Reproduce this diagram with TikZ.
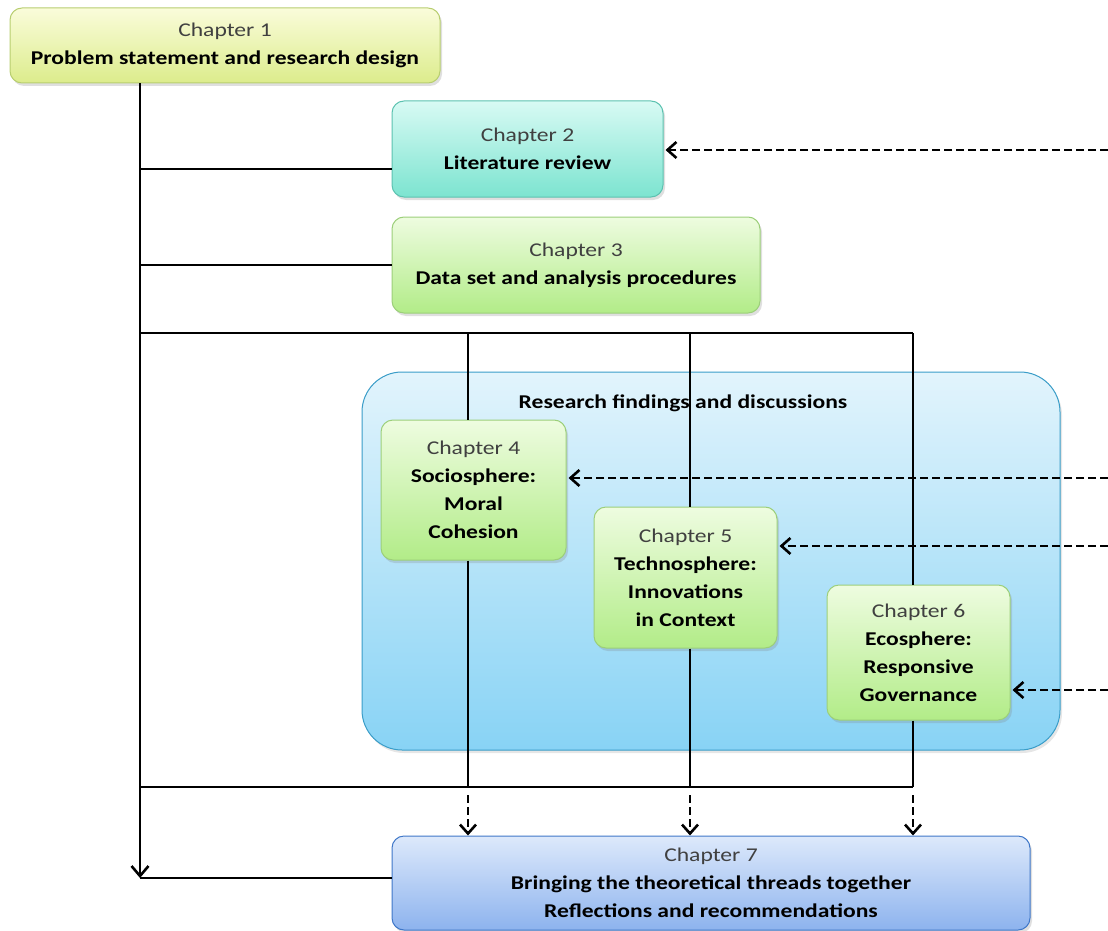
\documentclass[tikz,border=0pt]{standalone}
\usepackage{fontspec}
\setmainfont[FakeStretch=1.21]{Carlito}
\usepackage{xcolor}
\usetikzlibrary{arrows.meta,positioning,calc,shadows}

\definecolor{chapgray}{HTML}{404040}
\definecolor{yelTop}{HTML}{FAFCDA}
\definecolor{yelBot}{HTML}{DCEC8C}
\definecolor{yelLine}{HTML}{B8CE70}
\definecolor{cyaTop}{HTML}{D8FAF4}
\definecolor{cyaBot}{HTML}{7CE4D0}
\definecolor{cyaLine}{HTML}{5CC2B0}
\definecolor{grnTop}{HTML}{EEFCE0}
\definecolor{grnBot}{HTML}{B2EC88}
\definecolor{grnLine}{HTML}{9CCF7A}
\definecolor{bluTop}{HTML}{DDE9FB}
\definecolor{bluBot}{HTML}{8DB3EE}
\definecolor{bluLine}{HTML}{3F77C8}
\definecolor{skyTop}{HTML}{E2F4FC}
\definecolor{skyBot}{HTML}{88D3F5}
\definecolor{skyLine}{HTML}{3A9DC8}

\tikzset{
    chapbox/.style={draw, rounded corners=12pt, align=center, inner sep=0pt,
        line width=1pt, font=\fontsize{19.5}{28}\selectfont\bfseries,
        drop shadow={shadow xshift=2pt, shadow yshift=-3pt, opacity=0.25}},
    yelbox/.style={chapbox, draw=yelLine, top color=yelTop, bottom color=yelBot},
    cyabox/.style={chapbox, draw=cyaLine, top color=cyaTop, bottom color=cyaBot},
    grnbox/.style={chapbox, draw=grnLine, top color=grnTop, bottom color=grnBot},
    blubox/.style={chapbox, draw=bluLine, top color=bluTop, bottom color=bluBot},
    link/.style={line width=2.8pt},
    dashlink/.style={line width=2.8pt, dash pattern=on 8pt off 4pt,
        -{Straight Barb[length=9pt,width=16pt,line width=2.6pt]}},
    spinearrow/.style={line width=2.8pt,
        -{Straight Barb[length=10pt,width=17pt,line width=2.6pt]}}
}
\newcommand{\chap}[1]{{\mdseries\color{chapgray}Chapter #1}\\}

\begin{document}
\begin{tikzpicture}[x=1pt, y=-1pt]
    \useasboundingbox (0,0) rectangle (1108,931);

    % Draw findings panel
    \node[draw=skyLine, line width=1pt, rounded corners=40pt,
          top color=skyTop, bottom color=skyBot,
          drop shadow={shadow xshift=2pt, shadow yshift=-3pt, opacity=0.2},
          minimum width=698pt, minimum height=378pt] (find) at (711,561) {};
    \node[font=\fontsize{19.5}{28}\selectfont\bfseries] (findlbl) at (683,403)
        {Research findings and discussions};

    % Draw chapters
    \node[yelbox, minimum width=430pt, minimum height=75pt] (ch1) at (225,45.5)
        {\chap{1}Problem statement and research design};
    \node[cyabox, minimum width=271pt, minimum height=96pt] (ch2) at (527.5,149)
        {\chap{2}Literature review};
    \node[grnbox, minimum width=368pt, minimum height=96pt] (ch3) at (576,265)
        {\chap{3}Data set and analysis procedures};
    \node[grnbox, minimum width=185pt, minimum height=140pt] (ch4) at (473.5,490)
        {\chap{4}Sociosphere:\\Moral\\Cohesion};
    \node[grnbox, minimum width=183pt, minimum height=141pt] (ch5) at (685.5,577.5)
        {\chap{5}Technosphere:\\Innovations\\in Context};
    \node[grnbox, minimum width=183pt, minimum height=135pt] (ch6) at (918.5,652.5)
        {\chap{6}Ecosphere:\\Responsive\\Governance};
    \node[blubox, minimum width=638pt, minimum height=94pt] (ch7) at (711,883)
        {\chap{7}Bringing the theoretical threads together\\Reflections and recommendations};

    % Helper points
    \coordinate (spine) at (140,83);
    \coordinate (c2) at ([yshift=-20pt]ch2.west);
    \coordinate (c7) at ([yshift=5pt]ch7.west);
    \coordinate (col4) at (468,333);
    \coordinate (col5) at (690,333);
    \coordinate (col6) at (913,333);
    \coordinate (low) at (140,787);

    % Draw main spine and branches
    \draw[spinearrow] (spine |- ch1.south) -- (spine |- c7);
    \draw[link] (spine |- c7) -- (c7);
    \draw[link] (spine |- c2) -- (c2);
    \draw[link] (spine |- ch3.west) -- (ch3.west);
    \draw[link] (spine |- col4) -- (col6);
    \draw[link] (low) -- (col6 |- low);

    % Draw columns through the findings
    \foreach \c/\n in {col4/ch4, col5/ch5, col6/ch6} {
        \draw[link] (\c) -- (\c |- \n.north);
        \draw[link] (\c |- \n.south) -- (\c |- low);
        \draw[dashlink] (\c |- low) ++(0,8) -- (\c |- ch7.north);
    }

    % Add incoming links
    \coordinate (in2) at (1108,150);
    \coordinate (in4) at (1108,478);
    \coordinate (in5) at (1108,546);
    \coordinate (in6) at (1108,690);
    \draw[dashlink] (in2) -- ([xshift=2pt]in2 -| ch2.east);
    \draw[dashlink] (in4) -- ([xshift=2pt]in4 -| ch4.east);
    \draw[dashlink] (in5) -- ([xshift=2pt]in5 -| ch5.east);
    \draw[dashlink] (in6) -- ([xshift=2pt]in6 -| ch6.east);
\end{tikzpicture}
\end{document}
